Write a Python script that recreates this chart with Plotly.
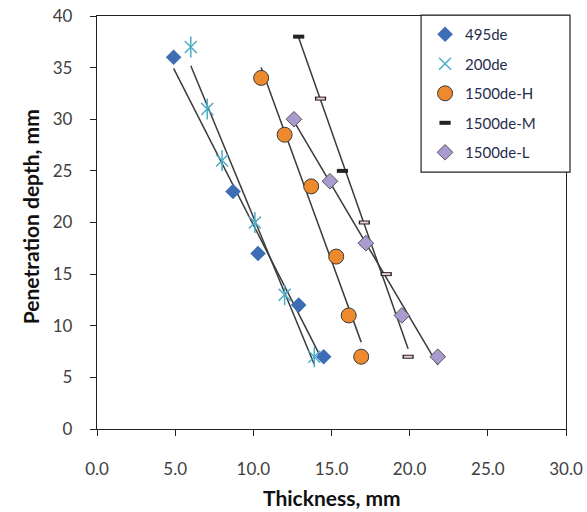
import numpy as np
import plotly.graph_objects as go

# ---- data ----
x_495 = [4.9, 8.7, 10.3, 12.9, 14.5]
y_495 = [36, 23, 17, 12, 7]

x_200 = [6.0, 7.05, 8.0, 10.1, 12.0, 13.9]
y_200 = [37, 31, 26, 20, 13, 7]

x_H = [10.5, 12.0, 13.7, 15.3, 16.1, 16.9]
y_H = [34, 28.5, 23.5, 16.7, 11, 7]

x_M = [12.9, 14.3, 15.7, 17.1, 18.5, 19.9]
y_M = [38, 32, 25, 20, 15, 7]
M_light = [False, True, False, True, True, True]   # markers drawn as light boxes

x_L = [12.6, 14.9, 17.2, 19.5, 21.8]
y_L = [30, 24, 18, 11, 7]

x_ticks = [0, 5, 10, 15, 20, 25, 30]
y_ticks = [0, 5, 10, 15, 20, 25, 30, 35, 40]

FONT = "Lato"
TXT = "#404040"
LINE = "#3a3a3a"

fig = go.Figure()


def trend(xs, ys):
    b, a = np.polyfit(xs, ys, 1)
    xr = np.array([min(xs), max(xs)])
    fig.add_trace(go.Scatter(x=xr, y=a + b * xr, mode="lines",
                             line=dict(color=LINE, width=1.5),
                             showlegend=False, hoverinfo="skip"))


for xs, ys in [(x_495, y_495), (x_200, y_200), (x_H, y_H), (x_M, y_M), (x_L, y_L)]:
    trend(xs, ys)

fig.add_trace(go.Scatter(x=x_495, y=y_495, mode="markers", name="495de",
                         legendgroup="a",
                         marker=dict(symbol="diamond", size=12, color="#3D6DB5",
                                     line=dict(width=0))))

CYAN = "#4BACC6"
fig.add_trace(go.Scatter(x=x_200, y=y_200, mode="markers", name="200de",
                         legendgroup="b",
                         marker=dict(symbol="x-thin-open", size=12, color=CYAN,
                                     line=dict(color=CYAN, width=1.5))))
fig.add_trace(go.Scatter(x=x_200, y=y_200, mode="markers", name="200de",
                         legendgroup="b", showlegend=False,
                         marker=dict(symbol="line-ns-open", size=15, color=CYAN,
                                     line=dict(color=CYAN, width=1.5))))

fig.add_trace(go.Scatter(x=x_H, y=y_H, mode="markers", name="1500de-H",
                         legendgroup="c",
                         marker=dict(symbol="circle", size=15, color="#EE8A2E",
                                     line=dict(color="#3a3a3a", width=1))))

fig.add_trace(go.Scatter(x=x_M, y=y_M, mode="markers", name="1500de-M",
                         legendgroup="d",
                         marker=dict(symbol="line-ew-open", size=8, color="#222222",
                                     line=dict(color="#222222", width=4))))
xl = [x for x, f in zip(x_M, M_light) if f]
yl = [y for y, f in zip(y_M, M_light) if f]
fig.add_trace(go.Scatter(x=xl, y=yl, mode="markers", name="1500de-M",
                         legendgroup="d", showlegend=False,
                         marker=dict(symbol="line-ew-open", size=6, color="#F2CDD0",
                                     line=dict(color="#F2CDD0", width=2))))

fig.add_trace(go.Scatter(x=x_L, y=y_L, mode="markers", name="1500de-L",
                         legendgroup="e",
                         marker=dict(symbol="diamond", size=12, color="#A99AD0",
                                     line=dict(color="#555555", width=1))))

axis_common = dict(showline=True, linecolor="#222222", linewidth=1.3, mirror=True,
                   ticks="outside", ticklen=6, tickcolor="#222222", tickwidth=1.3,
                   showgrid=False, zeroline=False, automargin=False,
                   ticklabeloverflow="allow",
                   tickfont=dict(family=FONT, size=17, color=TXT))

fig.update_xaxes(range=[0, 30], tickvals=x_ticks,
                 ticktext=[f"{v:.1f}" for v in x_ticks],
                 ticklabelstandoff=18, **axis_common)
fig.update_yaxes(range=[0, 40], tickvals=y_ticks,
                 ticktext=[str(v) for v in y_ticks],
                 ticklabelstandoff=14, **axis_common)

fig.add_annotation(text="<b>Thickness, mm</b>", xref="paper", yref="paper",
                   x=0.5, y=-0.167, xanchor="center", yanchor="middle",
                   showarrow=False, font=dict(family=FONT, size=21, color="#111111"))
fig.add_annotation(text="<b>Penetration depth, mm</b>", xref="paper", yref="paper",
                   x=-0.143, y=0.515, xanchor="center", yanchor="middle",
                   textangle=-90, showarrow=False,
                   font=dict(family=FONT, size=21, color="#111111"))

# legend frame (drawn as a box so its size matches the reference)
fig.add_shape(type="rect", xref="paper", yref="paper",
              x0=0.691, x1=1.0085, y0=0.622, y1=1.002,
              line=dict(color="#222222", width=1.2), fillcolor="white",
              layer="above")

fig.update_layout(
    width=587, height=512,
    margin=dict(l=97, r=21, t=16, b=83, autoexpand=False),
    paper_bgcolor="white", plot_bgcolor="white",
    font=dict(family=FONT, color=TXT),
    legend=dict(x=0.6995, y=0.995, xanchor="left", yanchor="top",
                borderwidth=0, bgcolor="rgba(0,0,0,0)",
                font=dict(family=FONT, size=15, color="#1f2d4d"),
                traceorder="grouped", tracegroupgap=7,
                itemwidth=30),
)

# remove the page's default body margin so the figure fills the window exactly
fig.write_html("out.html",
               config={"displayModeBar": False},
               post_script="document.body.style.margin='0';"
                           "document.body.style.overflow='hidden';")
